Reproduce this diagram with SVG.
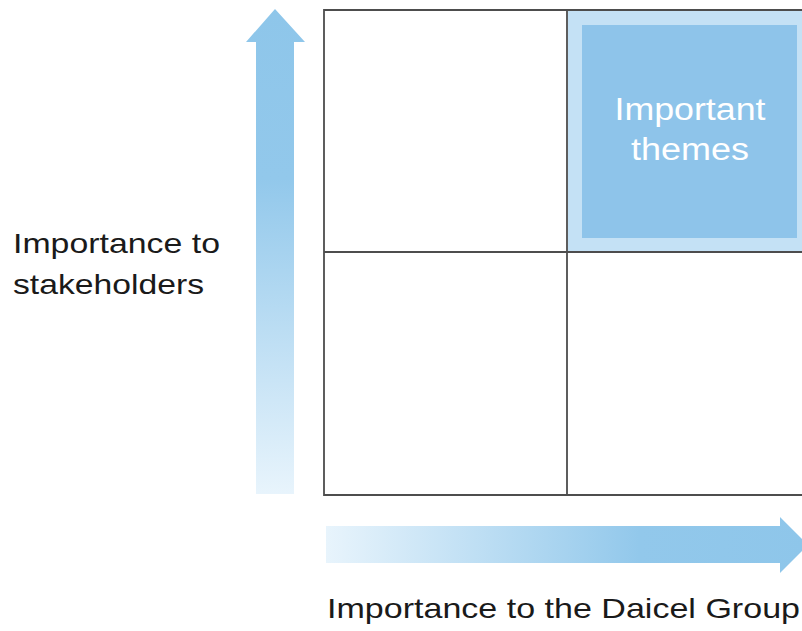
<svg xmlns="http://www.w3.org/2000/svg" width="802" height="631" viewBox="0 0 802 631">
<defs>
<linearGradient id="gv" x1="0" y1="0" x2="0" y2="1">
<stop offset="0" stop-color="#8ec6ea"/>
<stop offset="0.35" stop-color="#92c8eb"/>
<stop offset="1" stop-color="#e8f4fc"/>
</linearGradient>
<linearGradient id="gh" x1="0" y1="0" x2="1" y2="0">
<stop offset="0" stop-color="#e8f4fc"/>
<stop offset="0.65" stop-color="#92c8eb"/>
<stop offset="1" stop-color="#8ec6ea"/>
</linearGradient>
<style>
.grid{stroke:#4d4d4d;stroke-width:1.8;fill:none}
.lbl{font-family:"Liberation Sans",Arial,sans-serif;fill:#1a1a1a;font-size:28px}
.hl{font-family:"Liberation Sans",Arial,sans-serif;fill:#fff;font-size:31px;text-anchor:middle}
</style>
</defs>
<rect width="802" height="631" fill="#fff"/>
<g id="highlight">
<rect x="568" y="11" width="240" height="240" fill="#c4e1f5"/>
<rect x="582" y="25" width="215" height="213" fill="#8ec4ea"/>
<text class="hl" x="690" y="120" textLength="151" lengthAdjust="spacingAndGlyphs">Important</text>
<text class="hl" x="690" y="160" textLength="118" lengthAdjust="spacingAndGlyphs">themes</text>
</g>
<g id="grid">
<path class="grid" d="M810 10 H324 V495 H810 M567 10 V495 M324 252 H810"/>
</g>
<g id="connectors">
<path id="arrow-y" d="M275 9 L305 42 L294 42 L294 494 L256 494 L256 42 L246 42 Z" fill="url(#gv)"/>
<path id="arrow-x" d="M326 526 L780 526 L780 517 L808 545 L780 573 L780 563 L326 563 Z" fill="url(#gh)"/>
</g>
<g id="labels">
<text class="lbl" x="13" y="253" textLength="207" lengthAdjust="spacingAndGlyphs">Importance to</text>
<text class="lbl" x="13" y="294" textLength="191" lengthAdjust="spacingAndGlyphs">stakeholders</text>
<text class="lbl" x="327" y="618" textLength="473" lengthAdjust="spacingAndGlyphs">Importance to the Daicel Group</text>
</g>
</svg>
